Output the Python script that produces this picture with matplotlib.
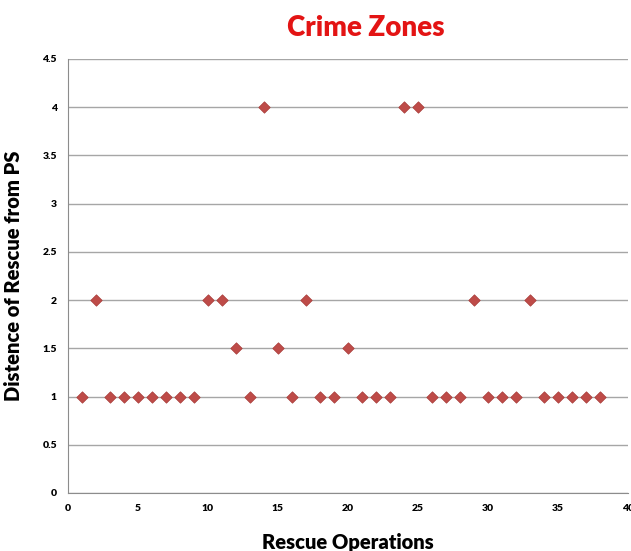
import matplotlib
matplotlib.use("Agg")
import matplotlib.pyplot as plt

operations = list(range(1, 39))
distances = [1, 2, 1, 1, 1, 1, 1, 1, 1, 2,
             2, 1.5, 1, 4, 1.5, 1, 2, 1, 1, 1.5,
             1, 1, 1, 4, 4, 1, 1, 1, 2, 1,
             1, 1, 2, 1, 1, 1, 1, 1]
x_ticks = [0, 5, 10, 15, 20, 25, 30, 35, 40]
y_ticks = [0, 0.5, 1, 1.5, 2, 2.5, 3, 3.5, 4, 4.5]

plt.rcParams['font.family'] = ['Lato', 'DejaVu Sans']

fig = plt.figure(figsize=(6.31, 5.51), dpi=100)
ax = fig.add_axes([68/631, 1-493/551, (628-68)/631, (493-59)/551])
ax.set_xlim(0, 40)
ax.set_ylim(0, 4.5)
ax.set_xticks(x_ticks)
ax.set_xticklabels([str(t) for t in x_ticks])
ax.set_yticks(y_ticks)
ax.set_yticklabels([('%g' % t) for t in y_ticks])
ax.grid(axis='y', color='#a6a6a6', linewidth=1)
ax.set_axisbelow(True)
for s in ['top', 'right']:
    ax.spines[s].set_visible(False)
for s in ['left', 'bottom']:
    ax.spines[s].set_color('#8c8c8c')
ax.tick_params(length=0, labelsize=7.5, pad=8)
for lab in ax.get_xticklabels() + ax.get_yticklabels():
    lab.set_fontweight('heavy')

ax.scatter(operations, distances, marker='D', s=34, color='#BE4B48',
           edgecolors='#A83A37', linewidths=0.5, zorder=3, clip_on=False)

ax.set_xlabel('Rescue Operations', fontsize=14.5, fontweight='heavy', labelpad=14)
ax.set_ylabel('Distence of Rescue from PS', fontsize=14.5, fontweight='heavy', labelpad=14)
fig.text(0.58, 0.95, 'Crime Zones', color='#E31414', fontsize=20,
         fontweight='heavy', ha='center', va='center')

fig.savefig('out.png', dpi=100)
